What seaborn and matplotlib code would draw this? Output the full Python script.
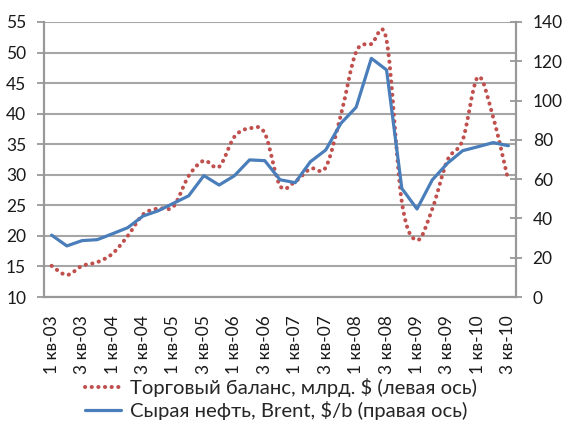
import numpy as np
import pandas as pd
import matplotlib
matplotlib.use("Agg")
import matplotlib.pyplot as plt
from matplotlib.path import Path
from matplotlib.patches import PathPatch
from matplotlib.lines import Line2D
import seaborn as sns

# quarterly data, 1 кв-03 .. 3 кв-10
quarters = [f"{q} кв-{y:02d}" for y in range(3, 11) for q in (1, 2, 3, 4)][:31]
trade_balance = [15.1, 13.6, 15.1, 15.7, 17.1, 20.0, 23.5, 24.5, 24.8, 29.8,
                 32.3, 31.3, 36.2, 37.6, 36.8, 28.2, 28.9, 31.0, 31.2, 39.8,
                 50.1, 51.4, 52.0, 25.6, 19.3, 24.4, 32.4, 35.7, 46.0, 39.4, 29.0]
brent = [31.5, 26.0, 28.7, 29.2, 32.2, 35.3, 41.2, 43.9, 47.7, 51.5,
         61.8, 57.0, 61.7, 69.8, 69.4, 59.7, 58.2, 68.9, 74.8, 88.4,
         96.6, 121.5, 115.6, 55.3, 44.8, 59.6, 68.1, 74.5, 76.5, 78.6, 77.0]

df = pd.DataFrame({"q": quarters, "idx": range(len(quarters)),
                   "trade": trade_balance, "brent": brent})

sns.set_style("white")
plt.rcParams["font.family"] = ["Lato", "DejaVu Sans"]

RED = "#C0504D"
BLUE = "#4A7EBB"
GRID = "#A6A6A6"
AX = "#989898"
TXT = "#1a1a1a"

fig = plt.figure(figsize=(5.63, 4.26), dpi=100)
ax = fig.add_axes([44 / 563, 1 - 297 / 426, 472 / 563, 275 / 426])
ax2 = ax.twinx()

# smooth (Excel-style) curve for trade balance, drawn as bezier path
x = df["idx"].to_numpy(float)
y = df["trade"].to_numpy(float)
verts = [(x[0], y[0])]
codes = [Path.MOVETO]
n = len(x)
for i in range(n - 1):
    p0 = np.array([x[max(i - 1, 0)], y[max(i - 1, 0)]])
    p1 = np.array([x[i], y[i]])
    p2 = np.array([x[i + 1], y[i + 1]])
    p3 = np.array([x[min(i + 2, n - 1)], y[min(i + 2, n - 1)]])
    c1 = p1 + (p2 - p0) / 6
    c2 = p2 - (p3 - p1) / 6
    verts += [tuple(c1), tuple(c2), tuple(p2)]
    codes += [Path.CURVE4] * 3
DOTS = (0, (0.05, 1.6))
patch = PathPatch(Path(verts, codes), fill=False, edgecolor=RED, lw=2.9,
                  linestyle=DOTS, capstyle="round", zorder=3)
ax.add_patch(patch)

sns.lineplot(data=df, x="idx", y="brent", ax=ax2, color=BLUE, lw=2.3, zorder=4)

ax.set_xlim(-0.5, n - 0.5)
ax.set_ylim(10, 55)
ax.set_yticks(range(10, 56, 5))
ax2.set_ylim(0, 140)
ax2.set_yticks(range(0, 141, 20))
ax.yaxis.grid(True, color=GRID, lw=1.5)
ax.set_axisbelow(True)

ax.set_xticks(np.arange(-0.5, n, 1), minor=True)
ax.set_xticks(np.arange(0, n, 2))
ax.set_xticklabels(df["q"][::2], rotation=90)
ax.tick_params(axis="x", which="major", length=0, pad=13, labelsize=12.5, labelcolor=TXT)
ax.tick_params(axis="x", which="minor", length=3.8, width=1.3, color=AX, direction="out")
ax.tick_params(axis="y", length=4.8, width=1.3, color=AX, labelsize=12.5, labelcolor=TXT, pad=8)
ax2.tick_params(axis="y", length=8, width=1.3, color=AX, direction="inout",
                labelsize=12.5, labelcolor=TXT, pad=8)

for a in (ax, ax2):
    a.set_xlabel("")
    a.set_ylabel("")
    a.spines["top"].set_visible(False)
    for s in ("left", "right", "bottom"):
        a.spines[s].set_color(AX)
        a.spines[s].set_linewidth(1.5)

handles = [Line2D([], [], color=RED, lw=2.9, linestyle=DOTS, dash_capstyle="round"),
           Line2D([], [], color=BLUE, lw=2.3)]
labels = ["Торговый баланс, млрд. $ (левая ось)", "Сырая нефть, Brent, $/b (правая ось)"]
fig.legend(handles, labels, loc="center", bbox_to_anchor=(281 / 563, 1 - 399 / 426),
           frameon=False, handlelength=1.75, handletextpad=0.45,
           labelspacing=0.2, borderpad=0, prop={"family": ["Lato", "DejaVu Sans"], "size": 14.6})

fig.savefig("out.png", dpi=100)
